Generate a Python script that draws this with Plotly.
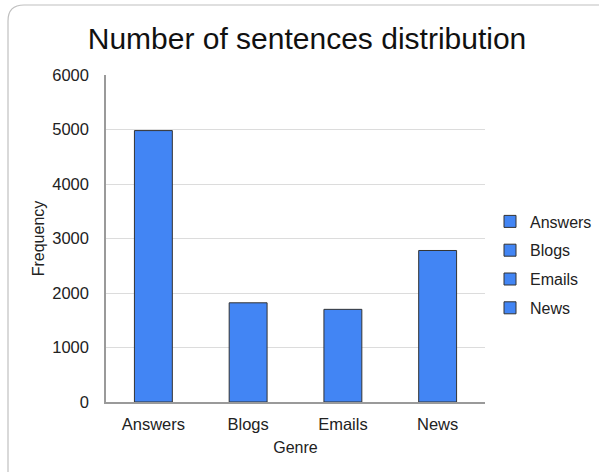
import plotly.graph_objects as go

genres = ["Answers", "Blogs", "Emails", "News"]
counts = [4980, 1820, 1700, 2780]
y_ticks = [0, 1000, 2000, 3000, 4000, 5000, 6000]

W, H = 599, 472
L, R, T, B = 106, 114, 75, 70
pw, ph = W - L - R, H - T - B

def px(x):
    return (x - L) / pw

def py(y):
    return (H - B - y) / ph

fig = go.Figure()
for g, c in zip(genres, counts):
    fig.add_trace(go.Bar(
        x=[g], y=[c], name=g, legendgroup=g, width=0.4,
        marker=dict(color="#4285F4", line=dict(color="#333333", width=1)),
    ))

# rounded border (cropped on right/bottom like the reference)
x0, y0, x1, y1, r = 8, 5, 614, 490, 16
path = (f"M {px(x0)},{py(y0 + r)} Q {px(x0)},{py(y0)} {px(x0 + r)},{py(y0)} "
        f"L {px(x1 - r)},{py(y0)} Q {px(x1)},{py(y0)} {px(x1)},{py(y0 + r)} "
        f"L {px(x1)},{py(y1 - r)} Q {px(x1)},{py(y1)} {px(x1 - r)},{py(y1)} "
        f"L {px(x0 + r)},{py(y1)} Q {px(x0)},{py(y1)} {px(x0)},{py(y1 - r)} Z")
fig.add_shape(type="path", path=path, xref="paper", yref="paper",
              line=dict(color="#c0c0c0", width=1.2), layer="below")

fig.update_layout(
    width=W, height=H,
    margin=dict(l=L, r=R, t=T, b=B, autoexpand=False),
    paper_bgcolor="white", plot_bgcolor="white",
    barmode="overlay",
    font=dict(family="Liberation Sans, Arial, sans-serif", color="#222222", size=16),
    title=dict(text="Number of sentences distribution", x=px(307), xref="paper",
               xanchor="center", y=1 - 38 / H, yanchor="middle",
               font=dict(size=30, color="#111111")),
    xaxis=dict(title=dict(text="Genre", font=dict(size=16), standoff=10),
               showline=True, linecolor="#9a9a9a", linewidth=1.5,
               showgrid=False, ticks="", tickfont=dict(size=16.5),
               ticklabelstandoff=6),
    yaxis=dict(title=dict(text="Frequency", font=dict(size=16), standoff=4),
               range=[0, 6000], tickvals=y_ticks, showline=True,
               linecolor="#9a9a9a", linewidth=1.5, gridcolor="#dcdcdc",
               gridwidth=1, zeroline=False, ticks="", ticklabelstandoff=12,
               tickfont=dict(size=16.5)),
    legend=dict(x=px(490), y=py(265), xanchor="left", yanchor="middle",
                tracegroupgap=5, font=dict(size=16), bgcolor="rgba(0,0,0,0)",
                itemwidth=30, itemclick=False),
    showlegend=True,
)

fig.write_html("out.html")
